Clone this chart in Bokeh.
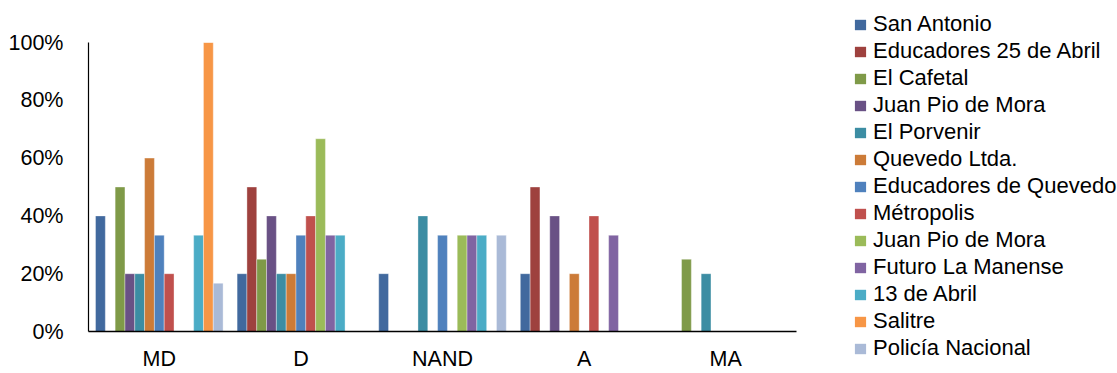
from bokeh.plotting import figure
from bokeh.layouts import row
from bokeh.models import Range1d, FactorRange, Legend, LegendItem, NumeralTickFormatter, FixedTicker
from bokeh.transform import dodge
from bokeh.embed import file_html
from bokeh.resources import INLINE

categories = ["MD", "D", "NAND", "A", "MA"]

series_names = [
    "San Antonio", "Educadores 25 de Abril", "El Cafetal", "Juan Pio de Mora",
    "El Porvenir", "Quevedo Ltda.", "Educadores de Quevedo", "Métropolis",
    "Juan Pio de Mora", "Futuro La Manense", "13 de Abril", "Salitre", "Policía Nacional",
]
series_colors = [
    "#41699E", "#9E413E", "#7F9A48", "#695185", "#3C8DA3", "#CC7B38", "#4F81BD",
    "#C0504D", "#9BBB59", "#8064A2", "#4BACC6", "#F79646", "#AABAD7",
]

san_antonio = [0.40, 0.20, 0.20, 0.20, 0.0]
educadores_25 = [0.0, 0.50, 0.0, 0.50, 0.0]
el_cafetal = [0.50, 0.25, 0.0, 0.0, 0.25]
juan_pio_1 = [0.20, 0.40, 0.0, 0.40, 0.0]
el_porvenir = [0.20, 0.20, 0.40, 0.0, 0.20]
quevedo_ltda = [0.60, 0.20, 0.0, 0.20, 0.0]
educadores_quevedo = [0.333, 0.333, 0.333, 0.0, 0.0]
metropolis = [0.20, 0.40, 0.0, 0.40, 0.0]
juan_pio_2 = [0.0, 0.667, 0.333, 0.0, 0.0]
futuro_manense = [0.0, 0.333, 0.333, 0.333, 0.0]
trece_abril = [0.333, 0.333, 0.333, 0.0, 0.0]
salitre = [1.0, 0.0, 0.0, 0.0, 0.0]
policia = [0.167, 0.0, 0.333, 0.0, 0.0]

series_values = [
    san_antonio, educadores_25, el_cafetal, juan_pio_1, el_porvenir, quevedo_ltda,
    educadores_quevedo, metropolis, juan_pio_2, futuro_manense, trece_abril, salitre, policia,
]

FONT = "Liberation Sans"

p = figure(
    x_range=FactorRange(*categories, range_padding=0),
    y_range=Range1d(0, 1),
    width=845, height=373,
    output_backend="svg", toolbar_location=None,
    min_border_left=88, min_border_right=49, min_border_top=42, min_border_bottom=42,
)
p.outline_line_color = None
p.xgrid.grid_line_color = None
p.ygrid.grid_line_color = None

bw = 0.0693
for i, (col, vals) in enumerate(zip(series_colors, series_values)):
    src = dict(cat=categories, val=vals)
    p.vbar(x=dodge("cat", (i - 6) * bw, range=p.x_range), top="val", width=bw,
           source=src, fill_color=col, line_color="white", line_width=0.6, line_alpha=0.6)

p.yaxis.ticker = FixedTicker(ticks=[0, 0.2, 0.4, 0.6, 0.8, 1.0])
p.yaxis.formatter = NumeralTickFormatter(format="0%")
for ax in (p.xaxis, p.yaxis):
    ax.major_tick_line_color = None
    ax.minor_tick_line_color = None
    ax.major_tick_out = 0
    ax.major_tick_in = 0
    ax.axis_line_color = "#000000"
    ax.major_label_text_font = FONT
    ax.major_label_text_font_size = "21.5px"
    ax.major_label_text_color = "#000000"
p.yaxis.axis_line_width = 1.2
p.xaxis.axis_line_width = 1.6
p.yaxis.major_label_standoff = 25
p.xaxis.major_label_standoff = 15
p.xaxis.group_text_font_size = "0px"

# legend panel
lg = figure(width=272, height=373, output_backend="svg", toolbar_location=None,
            x_range=Range1d(0, 1), y_range=Range1d(0, 1),
            x_axis_type=None, y_axis_type=None,
            min_border_left=0, min_border_right=0, min_border_top=0, min_border_bottom=0)
lg.outline_line_color = None
lg.xgrid.grid_line_color = None
lg.ygrid.grid_line_color = None
try:
    lg.frame_align = False
    p.frame_align = False
except AttributeError:
    pass

items = []
for name, col in zip(series_names, series_colors):
    r = lg.quad(left=[5], right=[6], top=[6], bottom=[5], fill_color=col, line_color=None)
    items.append(LegendItem(label=name, renderers=[r]))

legend = Legend(items=items, location=(8, 12), orientation="vertical",
                glyph_width=14, glyph_height=13, label_standoff=6, spacing=1,
                padding=0, margin=0, border_line_color=None, background_fill_alpha=0,
                label_text_font=FONT, label_text_font_size="22px", label_text_color="#000000",
                label_height=24)
lg.add_layout(legend, "center")

layout = row(p, lg, spacing=0)

open("out.html", "w").write(file_html(layout, INLINE))
